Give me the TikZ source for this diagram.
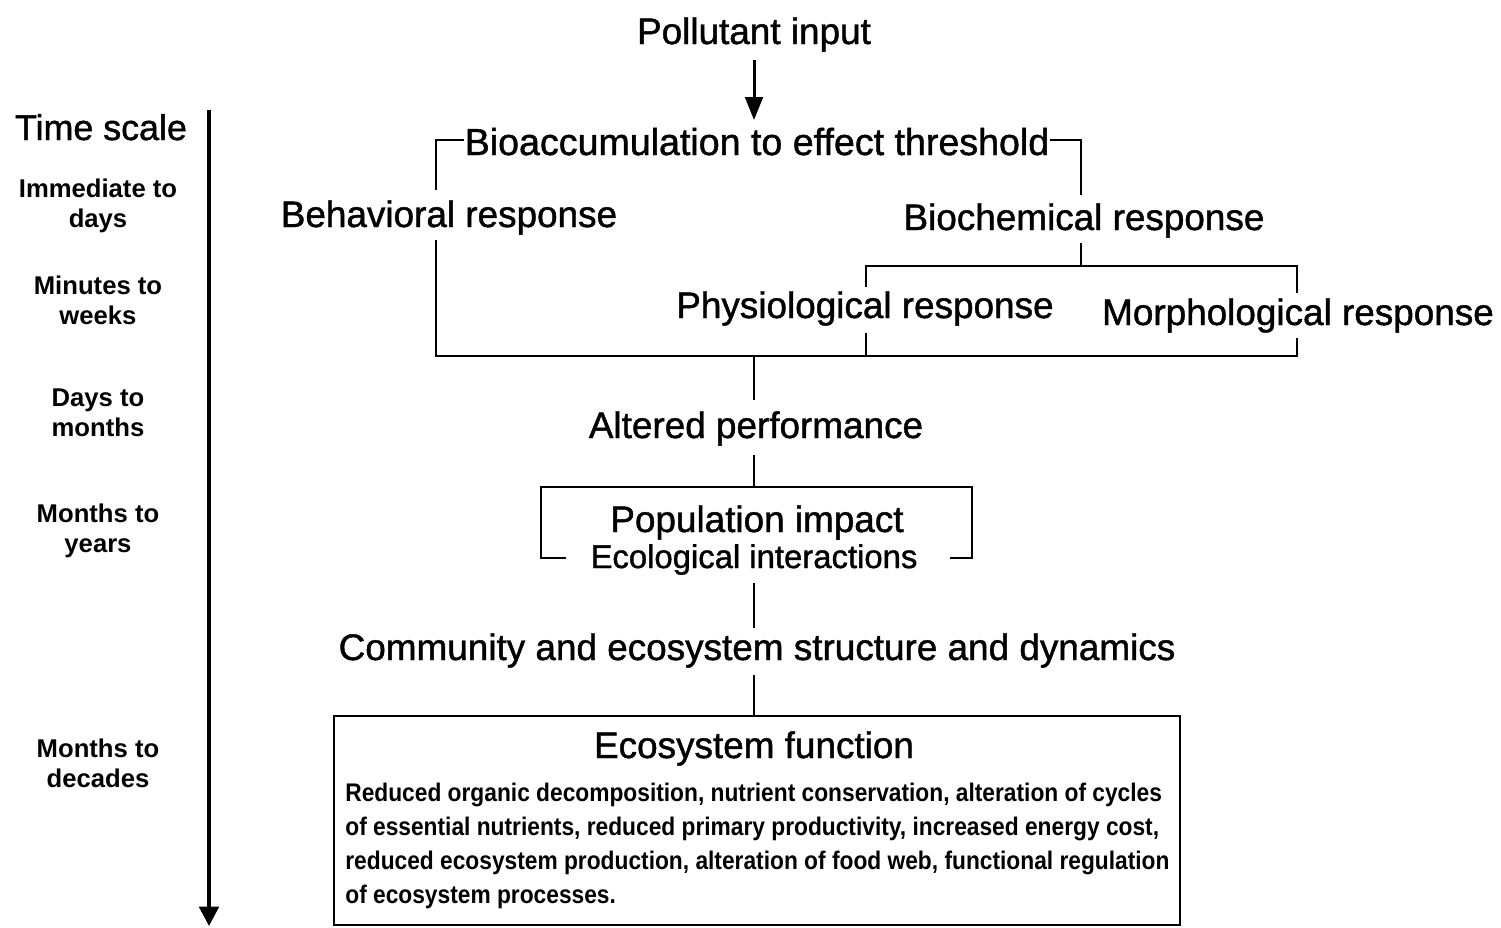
\documentclass[tikz,border=0pt]{standalone}
\usepackage{fontspec}
\setmainfont{Liberation Sans}
\newfontfamily\lblfont{Liberation Sans}[FakeBold=1.2]
\newfontfamily\condfont{Liberation Sans}[FakeStretch=0.893]
\usetikzlibrary{arrows.meta}
\begin{document}
\begin{tikzpicture}[x=0.02cm,y=-0.02cm,
  lbl/.style={anchor=base,inner sep=0pt,font=\lblfont\fontsize{21}{25}\selectfont},
  sublbl/.style={anchor=base,inner sep=0pt,font=\lblfont\fontsize{18.7}{22}\selectfont},
  tsl/.style={inner sep=0pt,align=center,font=\bfseries\fontsize{14.6}{17}\selectfont},
  ln/.style={line width=1.4pt},
  arr/.style={line width=1.7pt,-{Triangle[length=13pt,width=10pt]}},
  tarr/.style={line width=2.2pt,-{Triangle[length=11pt,width=11pt]}},
  boxed/.style={draw,line width=1.4pt,inner sep=0pt},
]
\useasboundingbox (0,0) rectangle (1501,927);

% time scale
\node[lbl,font=\lblfont\fontsize{20.4}{24}\selectfont] (ts) at (101,140) {Time scale};
\coordinate (tTop) at (209,110);
\coordinate (tEnd) at (209,926);
\draw[tarr] (tTop) -- (tEnd);
\node[tsl] (t1) at (98,206) {Immediate to\\days};
\node[tsl] (t2) at (98,300) {Minutes to\\weeks};
\node[tsl] (t3) at (98,412.5) {Days to\\months};
\node[tsl] (t4) at (98,530.5) {Months to\\years};
\node[tsl] (t5) at (98,763.5) {Months to\\decades};

% main chain
\node[lbl] (pol) at (754,44) {Pollutant input};
\node[lbl,font=\lblfont\fontsize{21.4}{25}\selectfont] (bio) at (757,155) {Bioaccumulation to effect threshold};
\coordinate (polA) at (754,60);
\coordinate (polB) at (754,120);
\draw[arr] (polA) -- (polB);

\node[lbl] (beh) at (449,227) {Behavioral response};
\node[lbl] (bch) at (1084,230) {Biochemical response};
\node[lbl] (phy) at (865,318) {Physiological response};
\node[lbl] (mor) at (1298,325) {Morphological response};

\coordinate (bioL) at (436,140);
\coordinate (bioR) at (1081,140);
\coordinate (behT) at (436,190);
\coordinate (bchT) at (1081,195);
\draw[ln] (bio.west |- bioL) -- (bioL) -- (behT);
\draw[ln] (bio.east |- bioR) -- (bioR) -- (bchT);

\coordinate (behB) at (436,240);
\coordinate (jL) at (436,356);
\coordinate (jR) at (1297,356);
\coordinate (morB) at (1297,338);
\coordinate (phyB) at (866,333);
\coordinate (jC) at (754,356);
\draw[ln] (behB) -- (jL) -- (jR) -- (morB);
\draw[ln] (phyB) -- (phyB |- jL);

\coordinate (bchB) at (1081,243);
\coordinate (brL) at (866,266);
\coordinate (brR) at (1297,266);
\coordinate (phyT) at (866,287);
\coordinate (morT) at (1297,293);
\draw[ln] (bchB) -- (bchB |- brL);
\draw[ln] (phyT) -- (brL) -- (brR) -- (morT);

\node[lbl] (alt) at (756,438) {Altered performance};
\coordinate (altT) at (754,400);
\draw[ln] (jC) -- (altT);

\node[lbl] (popA) at (757,532) {Population impact};
\node[sublbl] (popB) at (754,568) {Ecological interactions};
\coordinate (altB) at (754,455);
\coordinate (popT) at (754,487);
\draw[ln] (altB) -- (popT);
\coordinate (pl1) at (566,558);
\coordinate (pl2) at (541,558);
\coordinate (pl3) at (541,487);
\coordinate (pr3) at (972,487);
\coordinate (pr2) at (972,558);
\coordinate (pr1) at (950,558);
\draw[ln] (pl1) -- (pl2) -- (pl3) -- (pr3) -- (pr2) -- (pr1);

\node[lbl] (com) at (757,660) {Community and ecosystem structure and dynamics};
\coordinate (popBt) at (754,583);
\coordinate (comT) at (754,628);
\draw[ln] (popBt) -- (comT);

\node[boxed,minimum width=16.92cm,minimum height=4.18cm] (eco) at (757,820.5) {};
\coordinate (comB) at (754,675);
\draw[ln] (comB) -- (comB |- eco.north);
\node[lbl] (ecoT) at (754,758) {Ecosystem function};
\node[inner sep=0pt,anchor=west,align=left,font=\condfont\bfseries\fontsize{14.5}{19.4}\selectfont] (ecoP) at (345,846)
 {Reduced organic decomposition, nutrient conservation, alteration of cycles\\
  of essential nutrients, reduced primary productivity, increased energy cost,\\
  reduced ecosystem production, alteration of food web, functional regulation\\
  of ecosystem processes.};
\end{tikzpicture}
\end{document}
